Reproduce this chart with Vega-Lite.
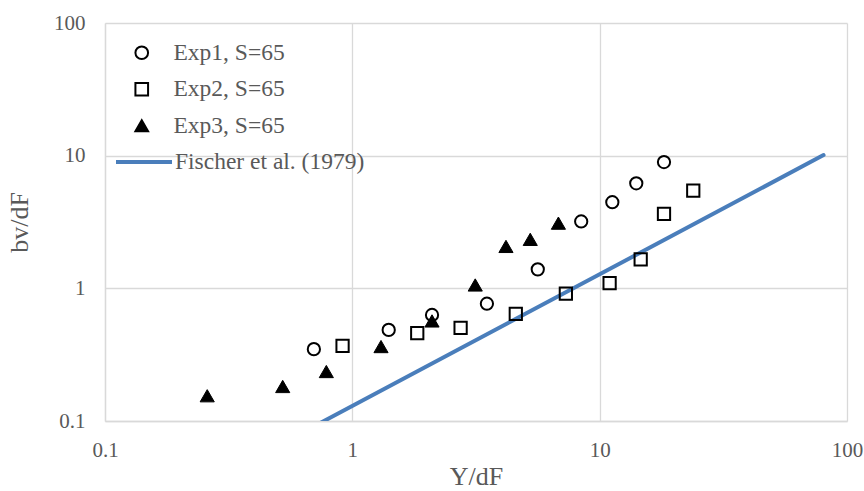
{
  "$schema": "https://vega.github.io/schema/vega-lite/v6.json",
  "width": 742,
  "height": 398,
  "autosize": "none",
  "padding": {"left": 105, "top": 23, "right": 17, "bottom": 70},
  "background": "white",
  "config": {
    "view": {"stroke": null},
    "font": "Liberation Serif",
    "axis": {
      "labelFont": "Liberation Serif",
      "labelFontSize": 21,
      "labelColor": "#595959",
      "titleFont": "Liberation Serif",
      "titleFontSize": 26,
      "titleFontWeight": "normal",
      "titleColor": "#595959",
      "ticks": false,
      "domainColor": "#d9d9d9",
      "domainWidth": 1.3,
      "gridColor": "#d9d9d9",
      "gridWidth": 1.3
    }
  },
  "datasets": {
    "exp": [
      {"series": "Exp1, S=65", "ydf": 0.699, "bv": 0.348},
      {"series": "Exp1, S=65", "ydf": 1.403, "bv": 0.486},
      {"series": "Exp1, S=65", "ydf": 2.10, "bv": 0.63},
      {"series": "Exp1, S=65", "ydf": 3.50, "bv": 0.766},
      {"series": "Exp1, S=65", "ydf": 5.62, "bv": 1.39},
      {"series": "Exp1, S=65", "ydf": 8.42, "bv": 3.19},
      {"series": "Exp1, S=65", "ydf": 11.25, "bv": 4.46},
      {"series": "Exp1, S=65", "ydf": 14.06, "bv": 6.19},
      {"series": "Exp1, S=65", "ydf": 18.2, "bv": 8.95},
      {"series": "Exp2, S=65", "ydf": 0.913, "bv": 0.368},
      {"series": "Exp2, S=65", "ydf": 1.83, "bv": 0.459},
      {"series": "Exp2, S=65", "ydf": 2.74, "bv": 0.503},
      {"series": "Exp2, S=65", "ydf": 4.58, "bv": 0.641},
      {"series": "Exp2, S=65", "ydf": 7.30, "bv": 0.911},
      {"series": "Exp2, S=65", "ydf": 10.97, "bv": 1.096},
      {"series": "Exp2, S=65", "ydf": 14.65, "bv": 1.65},
      {"series": "Exp2, S=65", "ydf": 18.2, "bv": 3.64},
      {"series": "Exp2, S=65", "ydf": 23.9, "bv": 5.46},
      {"series": "Exp3, S=65", "ydf": 0.259, "bv": 0.155},
      {"series": "Exp3, S=65", "ydf": 0.523, "bv": 0.182},
      {"series": "Exp3, S=65", "ydf": 0.785, "bv": 0.236},
      {"series": "Exp3, S=65", "ydf": 1.306, "bv": 0.364},
      {"series": "Exp3, S=65", "ydf": 2.10, "bv": 0.568},
      {"series": "Exp3, S=65", "ydf": 3.14, "bv": 1.06},
      {"series": "Exp3, S=65", "ydf": 4.18, "bv": 2.07},
      {"series": "Exp3, S=65", "ydf": 5.24, "bv": 2.34},
      {"series": "Exp3, S=65", "ydf": 6.81, "bv": 3.10}
    ],
    "fischer": [
      {"model": "Fischer et al. (1979)", "ydf": 0.70, "bv": 0.0912},
      {"model": "Fischer et al. (1979)", "ydf": 80.4, "bv": 10.1}
    ]
  },
  "encoding": {
    "x": {
      "field": "ydf", "type": "quantitative",
      "scale": {"type": "log", "domain": [0.1, 100], "nice": false},
      "axis": {"values": [0.1, 1, 10, 100], "format": "~g", "labelPadding": 18, "title": "Y/dF", "titlePadding": 3, "labelFlush": false, "labelOverlap": false}
    },
    "y": {
      "field": "bv", "type": "quantitative",
      "scale": {"type": "log", "domain": [0.1, 100], "nice": false},
      "axis": {"values": [0.1, 1, 10, 100], "format": "~g", "labelPadding": 20, "title": "bv/dF", "titlePadding": 21, "labelFlush": false, "labelOverlap": false}
    }
  },
  "layer": [
    {
      "data": {"name": "fischer"},
      "mark": {"type": "line", "strokeWidth": 4, "strokeCap": "round", "clip": true},
      "encoding": {
        "color": {
          "field": "model", "type": "nominal",
          "scale": {"domain": ["Fischer et al. (1979)"], "range": ["#4a7ebb"]},
          "legend": {
            "orient": "none", "legendX": 9, "legendY": 109, "title": null,
            "symbolType": "stroke", "symbolSize": 3136, "symbolStrokeWidth": 4,
            "labelFont": "Liberation Serif", "labelFontSize": 23.5, "labelColor": "#595959",
            "labelOffset": 1, "labelLimit": 0, "padding": 0
          }
        }
      }
    },
    {
      "data": {"name": "exp"},
      "transform": [{"filter": "datum.series === 'Exp1, S=65'"}],
      "mark": {"type": "point", "filled": false, "size": 150, "strokeWidth": 2, "opacity": 1},
      "encoding": {
        "shape": {"field": "series", "type": "nominal",
          "scale": {"domain": ["Exp1, S=65", "Exp2, S=65", "Exp3, S=65"], "range": ["circle", "square", "triangle-up"]},
          "legend": {
            "orient": "none", "legendX": 25, "legendY": 18, "title": null,
            "symbolSize": 160, "symbolStrokeWidth": 2, "rowPadding": 11.5,
            "labelFont": "Liberation Serif", "labelFontSize": 23.5, "labelColor": "#595959",
            "labelOffset": 20, "labelLimit": 0, "padding": 0
          }},
        "stroke": {"field": "series", "type": "nominal",
          "scale": {"domain": ["Exp1, S=65", "Exp2, S=65", "Exp3, S=65"], "range": ["black", "black", "black"]}},
        "fill": {"field": "series", "type": "nominal",
          "scale": {"domain": ["Exp1, S=65", "Exp2, S=65", "Exp3, S=65"], "range": ["transparent", "transparent", "black"]}}
      }
    },
    {
      "data": {"name": "exp"},
      "transform": [{"filter": "datum.series === 'Exp2, S=65'"}],
      "mark": {"type": "point", "filled": false, "size": 150, "strokeWidth": 2, "opacity": 1},
      "encoding": {
        "shape": {"field": "series", "type": "nominal"},
        "stroke": {"field": "series", "type": "nominal"},
        "fill": {"field": "series", "type": "nominal"}
      }
    },
    {
      "data": {"name": "exp"},
      "transform": [{"filter": "datum.series === 'Exp3, S=65'"}],
      "mark": {"type": "point", "filled": false, "size": 200, "strokeWidth": 1, "opacity": 1},
      "encoding": {
        "shape": {"field": "series", "type": "nominal"},
        "stroke": {"field": "series", "type": "nominal"},
        "fill": {"field": "series", "type": "nominal"}
      }
    }
  ]
}
